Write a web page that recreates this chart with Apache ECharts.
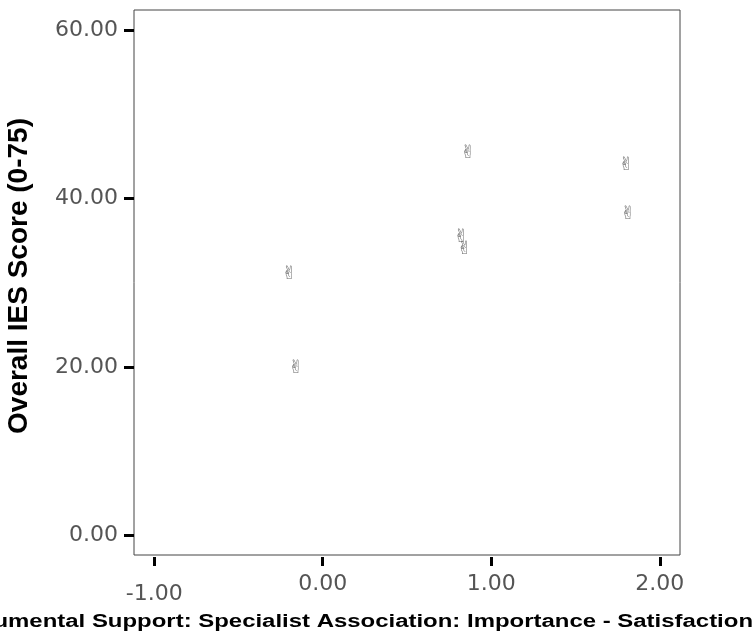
<!DOCTYPE html>
<html>
<head>
<meta charset="utf-8">
<script src="https://cdn.jsdelivr.net/npm/echarts@6/dist/echarts.min.js"></script>
<style>
  html, body { margin: 0; padding: 0; background: #fff; }
  #chart { width: 756px; height: 639px; }
</style>
</head>
<body>
<div id="chart"></div>
<script>
// Importance minus satisfaction score for specialist association support
const supportGap = [-0.20, -0.16, 0.86, 0.82, 0.84, 1.80, 1.81];
// Overall IES score (0-75)
const iesScore = [31.0, 19.9, 45.4, 35.4, 34.0, 44.0, 38.2];
const xTicks = [-1, 0, 1, 2];
const yTicks = [0, 20, 40, 60];
const xTitle = 'Instrumental Support: Specialist Association: Importance - Satisfaction';
const yTitle = 'Overall IES Score (0-75)';

const points = supportGap.map((x, i) => [x, iesScore[i]]);

const chart = echarts.init(document.getElementById('chart'), null, { renderer: 'canvas' });

const tickLabelStyle = {
  color: '#555',
  fontFamily: 'DejaVu Sans, sans-serif',
  fontSize: 22
};

chart.setOption({
  animation: false,
  backgroundColor: '#fff',
  grid: {
    left: 134, right: 76, top: 10, bottom: 84,
    show: true, borderColor: '#444', borderWidth: 1, backgroundColor: 'transparent'
  },
  xAxis: {
    type: 'value',
    min: -1.12, max: 2.12,
    offset: 2,
    splitLine: { show: false },
    axisLine: { show: false, onZero: false },
    axisTick: { show: true, length: 9, inside: false, customValues: xTicks,
      lineStyle: { color: '#000', width: 3 } },
    axisLabel: Object.assign({}, tickLabelStyle, {
      customValues: xTicks,
      margin: 16,
      formatter: v => v < 0 ? '{neg|' + v.toFixed(2) + '}' : v.toFixed(2),
      rich: { neg: Object.assign({}, tickLabelStyle, { padding: [10, 0, 0, 0] }) }
    })
  },
  yAxis: {
    type: 'value',
    min: -2.3, max: 62.4,
    splitLine: { show: false },
    axisLine: { show: false, onZero: false },
    axisTick: { show: true, length: 10, customValues: yTicks,
      lineStyle: { color: '#000', width: 3 } },
    axisLabel: Object.assign({}, tickLabelStyle, {
      customValues: yTicks,
      margin: 16,
      formatter: v => v.toFixed(2)
    })
  },
  series: [{
    type: 'scatter',
    data: points,
    symbolSize: 2,
    itemStyle: { color: 'rgba(0,0,0,0)' },
    label: {
      show: true,
      position: 'inside',
      formatter: '\u270C',
      color: '#444',
      fontFamily: 'DejaVu Sans',
      fontSize: 18
    }
  }],
  graphic: [
    {
      type: 'text',
      x: 753, y: 622,
      scaleX: 1.33,
      style: {
        x: 0, y: 0,
        text: xTitle,
        align: 'right',
        verticalAlign: 'middle',
        fill: '#000',
        font: 'bold 18px "Liberation Sans", Arial, sans-serif'
      }
    },
    {
      type: 'text',
      x: 19, y: 276,
      rotation: Math.PI / 2,
      style: {
        x: 0, y: 0,
        text: yTitle,
        align: 'center',
        verticalAlign: 'middle',
        fill: '#000',
        font: 'bold 28px "Liberation Sans", Arial, sans-serif'
      }
    }
  ]
});
</script>
</body>
</html>
